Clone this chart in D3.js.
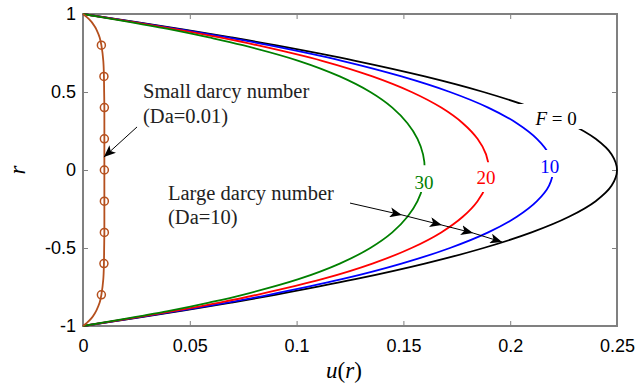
<!DOCTYPE html>
<html>
<head>
<meta charset="utf-8">
<script src="https://cdn.jsdelivr.net/npm/d3@7"></script>
<style>
  body { margin: 0; background: #fff; }
  svg { display: block; }
</style>
</head>
<body>
<div id="chart"></div>
<script>
// r positions (shared by the four large-Da profiles)
var rGrid = [1, 0.95, 0.9, 0.85, 0.8, 0.7, 0.6, 0.5, 0.4, 0.3, 0.2, 0.1, 0,
             -0.1, -0.2, -0.3, -0.4, -0.5, -0.6, -0.7, -0.8, -0.85, -0.9, -0.95, -1];

// velocity profiles u(r), Da = 10
var uF0  = [0, 0.0244, 0.0475, 0.0694, 0.090, 0.1275, 0.160, 0.1875, 0.210, 0.2275, 0.240, 0.2475, 0.250,
            0.2475, 0.240, 0.2275, 0.210, 0.1875, 0.160, 0.1275, 0.090, 0.0694, 0.0475, 0.0244, 0];
var uF10 = [0, 0.0235, 0.046, 0.0675, 0.087, 0.1212, 0.1491, 0.1718, 0.1897, 0.2031, 0.2125, 0.2182, 0.220,
            0.2182, 0.2125, 0.2031, 0.1897, 0.1718, 0.1491, 0.1212, 0.087, 0.0675, 0.046, 0.0235, 0];
var uF20 = [0, 0.0228, 0.0442, 0.0640, 0.0815, 0.1119, 0.1355, 0.1538, 0.1677, 0.1778, 0.1847, 0.1887, 0.190,
            0.1887, 0.1847, 0.1778, 0.1677, 0.1538, 0.1355, 0.1119, 0.0815, 0.0640, 0.0442, 0.0228, 0];
var uF30 = [0, 0.0215, 0.0415, 0.0590, 0.0748, 0.1009, 0.1202, 0.1345, 0.1448, 0.1519, 0.1566, 0.1592, 0.160,
            0.1592, 0.1566, 0.1519, 0.1448, 0.1345, 0.1202, 0.1009, 0.0748, 0.0590, 0.0415, 0.0215, 0];

// small Da = 0.01 profile
var rSmall = [1, 0.98, 0.95, 0.92, 0.9, 0.85, 0.8, 0.7, 0.6, 0.5, 0.4, 0.2, 0,
              -0.2, -0.4, -0.5, -0.6, -0.7, -0.8, -0.85, -0.9, -0.92, -0.95, -0.98, -1];
var uSmall = [0, 0.0018, 0.004, 0.0055, 0.0063, 0.0078, 0.0086, 0.0095, 0.0098, 0.0099, 0.0100, 0.0100, 0.0100,
              0.0100, 0.0100, 0.0099, 0.0098, 0.0095, 0.0086, 0.0078, 0.0063, 0.0055, 0.004, 0.0018, 0];
var rMarks = [0.8, 0.6, 0.4, 0.2, 0, -0.2, -0.4, -0.6, -0.8];
var uMarks = [0.0086, 0.0098, 0.0100, 0.0100, 0.0100, 0.0100, 0.0100, 0.0098, 0.0086];

var xTicks = [0, 0.05, 0.1, 0.15, 0.2, 0.25];
var yTicks = [-1, -0.5, 0, 0.5, 1];

var curves = [
  {name: "F = 0", u: uF0,  color: "#000000", gap: [0.263, 0.423]},
  {name: "10",    u: uF10, color: "#0000ff", gap: [-0.045, 0.128]},
  {name: "20",    u: uF20, color: "#ff0000", gap: [-0.141, 0.05]},
  {name: "30",    u: uF30, color: "#008000", gap: [-0.141, 0.03]}
];
// label anchor points (u, r)
var labelPos = [[0.2215, 0.33], [0.2185, 0.026], [0.1887, -0.05], [0.1596, -0.077]];

var margin = {top: 14, right: 19, bottom: 66, left: 83},
    width = 636 - margin.left - margin.right,
    height = 392 - margin.top - margin.bottom;

var svg = d3.select("#chart").append("svg")
    .attr("width", 636).attr("height", 392)
  .append("g")
    .attr("transform", "translate(" + margin.left + "," + margin.top + ")");

var x = d3.scaleLinear().domain([0, 0.25]).range([0, width]);
var y = d3.scaleLinear().domain([-1, 1]).range([height, 0]);

var defs = svg.append("defs");
defs.append("marker")
    .attr("id", "arrow")
    .attr("viewBox", "0 0 12 10")
    .attr("refX", 12).attr("refY", 5)
    .attr("markerWidth", 12).attr("markerHeight", 10)
    .attr("markerUnits", "userSpaceOnUse")
    .attr("orient", "auto")
  .append("path")
    .attr("d", "M0,0 L12,5 L0,10 L3,5 Z")
    .attr("fill", "#000");

var grey = "#808080";

// axes (ticks inside, mirrored on top / right)
function styleAxis(g) {
  g.select(".domain").remove();
  g.selectAll(".tick line").attr("stroke", grey).attr("stroke-width", 1);
  g.selectAll(".tick text").attr("fill", "#000")
    .style("font-family", "'Liberation Sans', Arial, sans-serif").style("font-size", "18px");
}
svg.append("g").attr("transform", "translate(0," + height + ")")
  .call(d3.axisBottom(x).tickValues(xTicks).tickSize(-5).tickPadding(13)
        .tickFormat(function(d) { return d === 0 ? "0" : String(d); }))
  .call(styleAxis);
svg.append("g")
  .call(d3.axisTop(x).tickValues(xTicks).tickSize(-5).tickFormat(""))
  .call(styleAxis);
svg.append("g")
  .call(d3.axisLeft(y).tickValues(yTicks).tickSize(-5).tickPadding(7)
        .tickFormat(function(d) { return String(d); }))
  .call(styleAxis);
svg.append("g").attr("transform", "translate(" + width + ",0)")
  .call(d3.axisRight(y).tickValues(yTicks).tickSize(-5).tickFormat(""))
  .call(styleAxis);

svg.append("rect")
    .attr("x", 0).attr("y", 0).attr("width", width).attr("height", height)
    .attr("fill", "none").attr("stroke", grey).attr("stroke-width", 2);

var line = d3.line()
    .x(function(d) { return x(d[0]); })
    .y(function(d) { return y(d[1]); })
    .curve(d3.curveCatmullRom.alpha(0.5));

// each curve is clipped so a gap is left for its label
curves.forEach(function(c, i) {
  var clip = defs.append("clipPath").attr("id", "clip" + i);
  clip.append("rect").attr("x", -5).attr("y", -5).attr("width", width + 10)
      .attr("height", y(c.gap[1]) + 5);
  clip.append("rect").attr("x", -5).attr("y", y(c.gap[0])).attr("width", width + 10)
      .attr("height", height - y(c.gap[0]) + 5);
  var pts = rGrid.map(function(r, k) { return [c.u[k], r]; });
  svg.append("path")
      .datum(pts)
      .attr("clip-path", "url(#clip" + i + ")")
      .attr("fill", "none")
      .attr("stroke", c.color)
      .attr("stroke-width", 1.8)
      .attr("d", line);
});

// curve labels
var serif = "'Liberation Serif', 'DejaVu Serif', serif";
curves.forEach(function(c, i) {
  var t = svg.append("text")
      .attr("x", x(labelPos[i][0]))
      .attr("y", y(labelPos[i][1]))
      .attr("text-anchor", "middle")
      .attr("dy", "0.35em")
      .attr("fill", c.color)
      .style("font-family", serif)
      .style("font-size", "19px");
  if (c.name === "F = 0") {
    t.append("tspan").style("font-style", "italic").text("F");
    t.append("tspan").text(" = 0");
  } else {
    t.text(c.name);
  }
});

// small Da profile with circle markers
var brown = "#b5501e";
svg.append("path")
    .datum(rSmall.map(function(r, k) { return [uSmall[k], r]; }))
    .attr("fill", "none")
    .attr("stroke", brown)
    .attr("stroke-width", 1.8)
    .attr("d", line);
svg.selectAll(".mk")
  .data(rMarks)
  .enter().append("circle")
    .attr("class", "mk")
    .attr("cx", function(d, k) { return x(uMarks[k]); })
    .attr("cy", function(d) { return y(d); })
    .attr("r", 4)
    .attr("fill", "none")
    .attr("stroke", brown)
    .attr("stroke-width", 1.5);

// annotations
function annot(u, r, lines) {
  var t = svg.append("text")
      .attr("x", x(u)).attr("y", y(r))
      .style("font-family", serif).style("font-size", "20.5px").attr("fill", "#222");
  lines.forEach(function(s, k) {
    t.append("tspan").attr("x", x(u)).attr("dy", k === 0 ? 0 : "1.2em").text(s);
  });
}
annot(0.0281, 0.46, ["Small darcy number", "(Da=0.01)"]);
annot(0.0398, -0.19, ["Large darcy number", "(Da=10)"]);

// small-Da arrow
var smallArrow = [[0.0253, 0.276], [0.0098, 0.083]];
svg.append("line")
    .attr("x1", x(smallArrow[0][0])).attr("y1", y(smallArrow[0][1]))
    .attr("x2", x(smallArrow[1][0])).attr("y2", y(smallArrow[1][1]))
    .attr("stroke", "#000").attr("stroke-width", 1)
    .attr("marker-end", "url(#arrow)");

// large-Da arrow with a head at each crossing
var bigArrow = [[0.125, -0.212], [0.1493, -0.288], [0.168, -0.353], [0.1826, -0.404], [0.1962, -0.462]];
for (var k = 0; k < bigArrow.length - 1; k++) {
  svg.append("line")
      .attr("x1", x(bigArrow[k][0])).attr("y1", y(bigArrow[k][1]))
      .attr("x2", x(bigArrow[k + 1][0])).attr("y2", y(bigArrow[k + 1][1]))
      .attr("stroke", "#000").attr("stroke-width", 1)
      .attr("marker-end", "url(#arrow)");
}

// axis labels
svg.append("text")
    .attr("x", width / 2 - 6).attr("y", height + 52)
    .attr("text-anchor", "middle")
    .style("font-family", serif).style("font-size", "23px")
    .html("<tspan font-style='italic'>u</tspan>(<tspan font-style='italic'>r</tspan>)");
svg.append("text")
    .attr("transform", "translate(" + (-58) + "," + (height / 2) + ") rotate(-90)")
    .attr("text-anchor", "middle")
    .style("font-family", serif).style("font-size", "23px").style("font-style", "italic")
    .text("r");
</script>
</body>
</html>
